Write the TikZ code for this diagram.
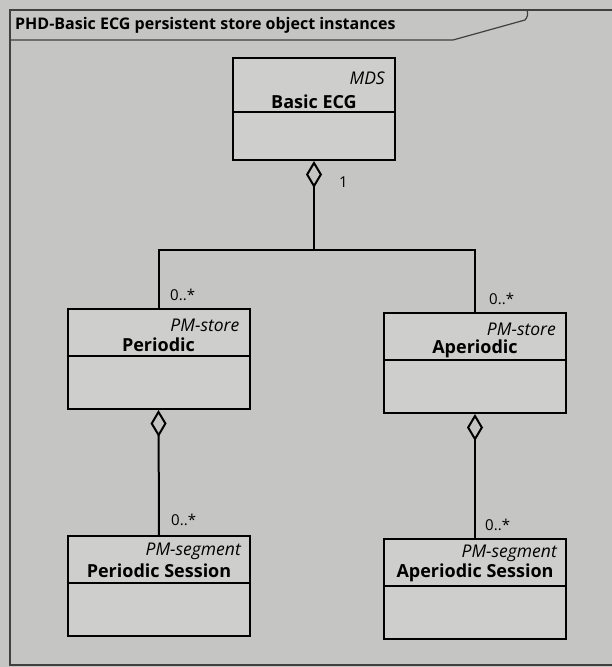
\documentclass[tikz,border=0pt]{standalone}
\usepackage{fontspec}
\setmainfont{Open Sans}
\usetikzlibrary{arrows.meta,positioning}
\definecolor{bggray}{RGB}{197,198,196}
\definecolor{boxgray}{RGB}{206,207,205}
\tikzset{
	classbox/.style={draw=black, line width=2pt, fill=boxgray, inner sep=0pt, minimum width=182pt, minimum height=100pt},
	stereo/.style={font=\itshape\fontsize{17.5}{17.5}\selectfont, anchor=east, inner sep=0pt},
	cname/.style={font=\bfseries\fontsize{18}{18}\selectfont, inner sep=0pt},
	mult/.style={font=\fontsize{15}{15}\selectfont, anchor=west, inner sep=0pt},
	link/.style={line width=2pt},
	aggr/.style={link, {Diamond[open, length=27pt, width=16pt]}-},
}
\begin{document}
\begin{tikzpicture}[x=1pt, y=-1pt]
				\useasboundingbox (0,0) rectangle (612,667);
				\fill[bggray] (0,0) rectangle (612,667);
				
				% frame and tab
				\coordinate (FT) at (10,10);
				\coordinate (FB) at (10,665);
				\coordinate (TL) at (10,40);
				\coordinate (TS) at (453,40);
				\coordinate (TC) at (525,20);
				\coordinate (TR) at (527,10);
				\draw[line width=1.2pt, black!75] (612,10) -- (FT) -- (FB) -- (612,665);
				\draw[line width=1.2pt, black!75] (TL) -- (TS) -- (TC) to[bend right=30] (TR);
				\node[font=\bfseries\fontsize{16}{16}\selectfont, anchor=west, inner sep=0pt] (title) at (15,25) {PHD-Basic ECG persistent store object instances};
				
				\node[classbox, minimum width=162pt, minimum height=102pt] (mds) at (314,109) {};
				\node[classbox] (periodic) at (158.5,359) {};
				\node[classbox] (aperiodic) at (475,363) {};
				\node[classbox] (psession) at (159,586) {};
				\node[classbox] (asession) at (475,589) {};
				
				\draw[link] ([yshift=-55pt]mds.north west) -- ([yshift=-55pt]mds.north east);
				\foreach \n in {periodic, aperiodic, psession, asession}
					\draw[link] ([yshift=-48pt]\n.north west) -- ([yshift=-48pt]\n.north east);
				
				\node[stereo] (mdsst) at ([xshift=-11pt, yshift=-21pt]mds.north east) {MDS};
				\node[cname] (mdsname) at ([yshift=-45pt]mds.north) {Basic ECG};
				\node[stereo] (periodicst) at ([xshift=-11pt, yshift=-17pt]periodic.north east) {PM-store};
				\node[cname] (periodicname) at ([yshift=-37pt]periodic.north) {Periodic};
				\node[stereo] (aperiodicst) at ([xshift=-11pt, yshift=-17pt]aperiodic.north east) {PM-store};
				\node[cname] (aperiodicname) at ([yshift=-37pt]aperiodic.north) {Aperiodic};
				\node[stereo] (psessionst) at ([xshift=-10pt, yshift=-16pt]psession.north east) {PM-segment};
				\node[cname] (psessionname) at ([yshift=-36pt]psession.north) {Periodic Session};
				\node[stereo] (asessionst) at ([xshift=-10pt, yshift=-15pt]asession.north east) {PM-segment};
				\node[cname] (asessionname) at ([yshift=-35pt]asession.north) {Aperiodic Session};
				
				\coordinate (J) at (mds.south |- 0,250);
				\draw[aggr] (mds.south) -- (J);
				\draw[link] (J) -| (periodic.north);
				\draw[link] (J) -| (aperiodic.north);
				\draw[aggr] (periodic.south) -- (psession.north);
				\draw[aggr] (aperiodic.south) -- (asession.north);
				
				\node[mult] (m1) at (339,182) {1};
				\node[mult] (m2) at (170,295) {0..*};
				\node[mult] (m3) at (489,299) {0..*};
				\node[mult] (m4) at (171,520) {0..*};
				\node[mult] (m5) at (485,525) {0..*};
\end{tikzpicture}
\end{document}
